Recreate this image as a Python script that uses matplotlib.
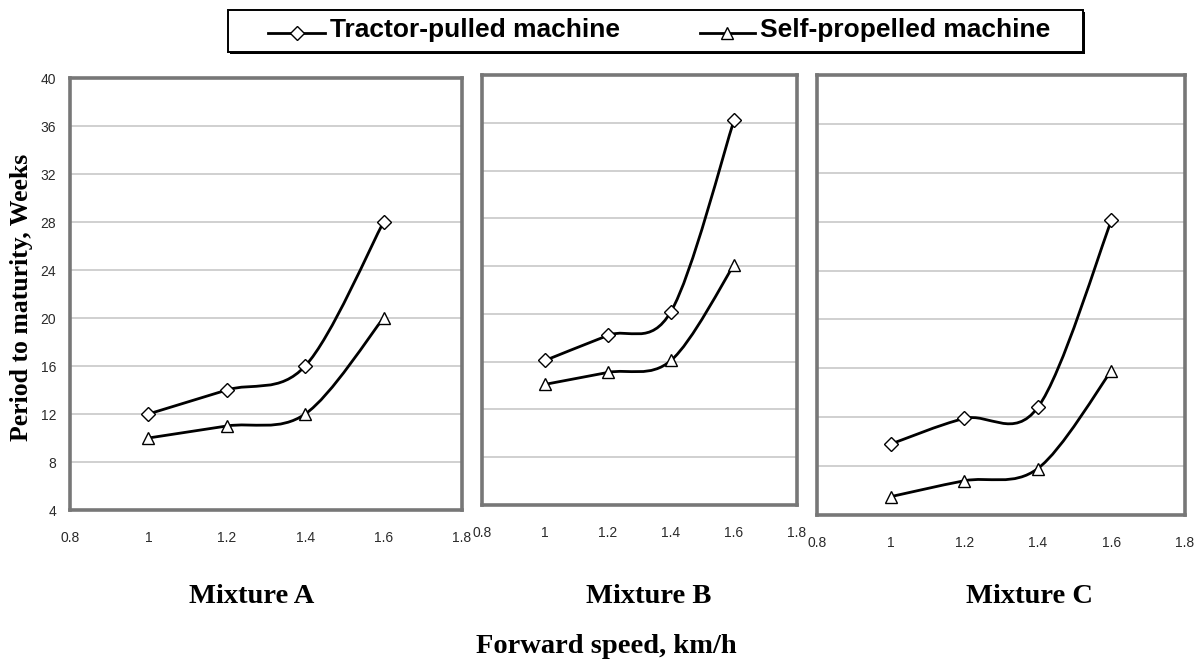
import numpy as np
import matplotlib
matplotlib.use("Agg")
import matplotlib.pyplot as plt
from matplotlib.path import Path
from matplotlib.patches import PathPatch, Rectangle
from matplotlib.lines import Line2D

# ---- data ----
speed = [1.0, 1.2, 1.4, 1.6]
mixtures = ["Mixture A", "Mixture B", "Mixture C"]
tractor_A = [12, 14, 16, 28]
self_A = [10, 11, 12, 20]
tractor_B = [16.1, 18.2, 20.2, 36.2]
self_B = [14.1, 15.1, 16.1, 24.1]
tractor_C = [9.8, 11.9, 12.8, 28.1]
self_C = [5.5, 6.8, 7.8, 15.8]
xticks = [0.8, 1.0, 1.2, 1.4, 1.6, 1.8]
xticklabels = ["0.8", "1", "1.2", "1.4", "1.6", "1.8"]
yticks = [4, 8, 12, 16, 20, 24, 28, 32, 36, 40]
series_names = ["Tractor-pulled machine", "Self-propelled machine"]

W, H = 1199, 662
fig = plt.figure(figsize=(W / 100, H / 100), dpi=100)

SERIF = ["Liberation Serif", "DejaVu Serif"]
SANS = ["Liberation Sans", "DejaVu Sans"]


def fx(px):
    return px / W


def fy(py):
    return 1 - py / H


def smooth_path(x, y):
    """Excel-style smoothed line: Catmull-Rom converted to cubic Bezier."""
    pts = np.column_stack([x, y]).astype(float)
    n = len(pts)
    verts = [pts[0]]
    codes = [Path.MOVETO]
    for i in range(n - 1):
        p0 = pts[i - 1] if i > 0 else pts[i]
        p1 = pts[i]
        p2 = pts[i + 1]
        p3 = pts[i + 2] if i + 2 < n else pts[i + 1]
        c1 = p1 + (p2 - p0) / 6.0
        c2 = p2 - (p3 - p1) / 6.0
        verts += [c1, c2, p2]
        codes += [Path.CURVE4] * 3
    return Path(verts, codes)


def add_ax(l, r, t, b):
    return fig.add_axes([fx(l), fy(b), (r - l) / W, (b - t) / H])


boxes = [(70, 462, 78, 510), (482, 797, 75, 505), (817, 1185, 75, 515)]
data = [(tractor_A, self_A), (tractor_B, self_B), (tractor_C, self_C)]
label_x = [252, 649, 1030]

for k, (box, (tr, sp)) in enumerate(zip(boxes, data)):
    ax = add_ax(*box)
    ax.set_xlim(0.8, 1.8)
    ax.set_ylim(4, 40)
    ax.set_yticks(yticks)
    ax.set_xticks(xticks)
    ax.set_xticklabels(xticklabels, family=SANS, fontsize=10, color="#2a2a2a")
    if k == 0:
        ax.set_yticklabels([str(v) for v in yticks], family=SANS, fontsize=10, color="#2a2a2a")
    else:
        ax.set_yticklabels([])
    ax.tick_params(axis="x", length=0, pad=15)
    ax.tick_params(axis="y", length=0, pad=10)
    ax.grid(axis="y", color="#c8c8c8", lw=1.2)
    ax.set_axisbelow(True)
    for s in ax.spines.values():
        s.set_color("#777777")
        s.set_linewidth(2.6)
    for yv, mk in ((tr, "D"), (sp, "^")):
        ax.add_patch(PathPatch(smooth_path(speed, yv), facecolor="none",
                               edgecolor="black", lw=2.0, zorder=3))
        ax.plot(speed, yv, ls="none", marker=mk, ms=7.5 if mk == "D" else 9,
                mfc="white", mec="black", mew=1.0, zorder=4)
    fig.text(fx(label_x[k]), fy(603), mixtures[k], ha="center", va="baseline",
             family=SERIF, fontweight="bold", fontsize=20.5)

fig.text(fx(606), fy(653), "Forward speed, km/h", ha="center", va="baseline",
         family=SERIF, fontweight="bold", fontsize=20.5)
fig.text(fx(22), fy(297), "Period to maturity, Weeks", ha="center", va="center",
         rotation=90, family=SERIF, fontweight="bold", fontsize=18.5)

# legend (drawn by hand to match the reference frame)
fig.patches.append(Rectangle((fx(230), fy(54)), (1085 - 230) / W, (54 - 12) / H,
                             transform=fig.transFigure, facecolor="black",
                             edgecolor="black", lw=0, zorder=1))
fig.patches.append(Rectangle((fx(228), fy(52)), (1083 - 228) / W, (52 - 10) / H,
                             transform=fig.transFigure, facecolor="white",
                             edgecolor="black", lw=1.4, zorder=2))
leg_items = [(268, 325, 297, "D", 7.5, 330), (700, 755, 727, "^", 9, 760)]
for (x0, x1, xm, mk, ms, xt), name in zip(leg_items, series_names):
    fig.add_artist(Line2D([fx(x0), fx(x1)], [fy(33), fy(33)], color="black", lw=2.0,
                          transform=fig.transFigure, zorder=3))
    fig.add_artist(Line2D([fx(xm)], [fy(33)], ls="none", marker=mk, ms=ms, mfc="white",
                          mec="black", mew=1.0, transform=fig.transFigure, zorder=4))
    fig.text(fx(xt), fy(37), name, ha="left", va="baseline", family=SANS,
             fontweight="bold", fontsize=19, zorder=5)

fig.savefig("out.png", dpi=100)
